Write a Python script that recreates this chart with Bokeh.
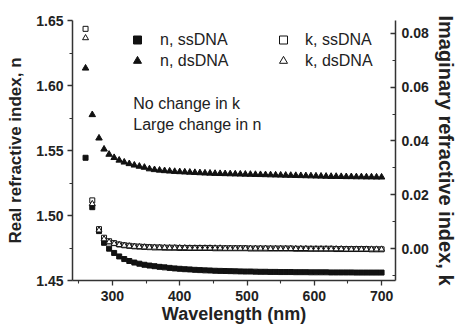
from bokeh.plotting import figure
from bokeh.models import (Range1d, LinearAxis, FixedTicker, NumeralTickFormatter,
                          Legend, LegendItem, Label)
from bokeh.embed import file_html
from bokeh.resources import INLINE

# Wavelength grid (nm)
wavelength = [260, 270, 280, 287.5, 295, 302.5, 310, 317.5, 325, 332.5, 340, 347.5,
              355, 362.5, 370, 377.5, 385, 392.5, 400, 407.5, 415, 422.5, 430, 437.5,
              445, 452.5, 460, 467.5, 475, 482.5, 490, 497.5, 505, 512.5, 520, 527.5,
              535, 542.5, 550, 557.5, 565, 572.5, 580, 587.5, 595, 602.5, 610, 617.5,
              625, 632.5, 640, 647.5, 655, 662.5, 670, 677.5, 685, 692.5, 700]

# Real refractive index n
n_ssdna = [1.5444, 1.5064, 1.4880, 1.4790, 1.4745, 1.4712, 1.4685, 1.4665, 1.4650,
           1.4638, 1.4629, 1.4621, 1.4615, 1.4610, 1.4605, 1.4601, 1.4597, 1.4593,
           1.4590, 1.4587, 1.4585, 1.4582, 1.4580, 1.4578, 1.4577, 1.4575, 1.4574,
           1.4573, 1.4572, 1.4571, 1.4570, 1.4569, 1.4569, 1.4568, 1.4567, 1.4567,
           1.4566, 1.4566, 1.4565, 1.4565, 1.4565, 1.4564, 1.4564, 1.4564, 1.4563,
           1.4563, 1.4563, 1.4563, 1.4562, 1.4562, 1.4562, 1.4562, 1.4562, 1.4561,
           1.4561, 1.4561, 1.4561, 1.4561, 1.4561]
n_dsdna = [1.6133, 1.5775, 1.5595, 1.5510, 1.5470, 1.5445, 1.5425, 1.5410, 1.5398,
           1.5387, 1.5378, 1.5370, 1.5358, 1.5352, 1.5348, 1.5344, 1.5341, 1.5338,
           1.5336, 1.5334, 1.5332, 1.5330, 1.5328, 1.5326, 1.5325, 1.5323, 1.5322,
           1.5321, 1.5320, 1.5319, 1.5318, 1.5317, 1.5316, 1.5315, 1.5314, 1.5313,
           1.5312, 1.5311, 1.5310, 1.5309, 1.5308, 1.5307, 1.5306, 1.5305, 1.5304,
           1.5303, 1.5302, 1.5301, 1.5300, 1.5300, 1.5299, 1.5298, 1.5298, 1.5297,
           1.5297, 1.5296, 1.5296, 1.5295, 1.5295]

# Imaginary refractive index k
k_ssdna = [0.0817, 0.0179, 0.0072, 0.0040, 0.0027, 0.0020, 0.0015, 0.0012, 0.0010,
           0.0008, 0.0007, 0.0006, 0.0005, 0.0004, 0.0004, 0.0003, 0.0003, 0.0003,
           0.0002, 0.0002, 0.0002, 0.0002, 0.0002, 0.0002, 0.0002, 0.0001, 0.0001,
           0.0001, 0.0001, 0.0001, 0.0001, 0.0001, 0.0000, 0.0000, 0.0000, 0.0000,
           0.0000, 0.0000, 0.0000, 0.0000, 0.0000, -0.0001, -0.0001, -0.0001, -0.0001,
           -0.0001, -0.0001, -0.0001, -0.0001, -0.0002, -0.0002, -0.0002, -0.0002,
           -0.0002, -0.0002, -0.0002, -0.0003, -0.0003, -0.0003]
k_dsdna = [0.0783, 0.0166, 0.0068, 0.0035, 0.0024, 0.0018, 0.0014, 0.0011, 0.0009,
           0.0007, 0.0006, 0.0005, 0.0004, 0.0004, 0.0003, 0.0003, 0.0002, 0.0002,
           0.0002, 0.0002, 0.0001, 0.0001, 0.0001, 0.0001, 0.0001, 0.0001, 0.0001,
           0.0000, 0.0000, 0.0000, 0.0000, 0.0000, 0.0000, 0.0000, 0.0000, 0.0000,
           -0.0001, -0.0001, -0.0001, -0.0001, -0.0001, -0.0001, -0.0001, -0.0001,
           -0.0002, -0.0002, -0.0002, -0.0002, -0.0002, -0.0002, -0.0002, -0.0003,
           -0.0003, -0.0003, -0.0003, -0.0003, -0.0003, -0.0003, -0.0003]

x_ticks = [300, 400, 500, 600, 700]
x_minor = [250, 350, 450, 550, 650]
n_ticks = [1.45, 1.50, 1.55, 1.60, 1.65]
n_minor = [1.475, 1.525, 1.575, 1.625]
k_ticks = [0.00, 0.02, 0.04, 0.06, 0.08]
k_minor = [-0.01, 0.01, 0.03, 0.05, 0.07]

FONT = "Liberation Sans"
INK = "#111111"
AXIS = "#333333"

p = figure(width=459, height=328, output_backend="svg", toolbar_location=None,
           x_range=Range1d(240.6, 720.7), y_range=Range1d(1.45, 1.65),
           min_border_left=72, min_border_right=63, min_border_top=20,
           min_border_bottom=48)
p.extra_y_ranges = {"k": Range1d(-0.0119, 0.0848)}
p.outline_line_color = None
p.xgrid.visible = False
p.ygrid.visible = False
p.background_fill_color = "white"
p.border_fill_color = "white"


def style_axis(ax):
    ax.axis_line_color = AXIS
    ax.axis_line_width = 1.5
    ax.major_tick_line_color = AXIS
    ax.minor_tick_line_color = AXIS
    ax.major_tick_line_width = 1.3
    ax.minor_tick_line_width = 1.1
    ax.major_label_text_font = FONT
    ax.major_label_text_font_style = "bold"
    ax.major_label_text_font_size = "14px"
    ax.major_label_text_color = "#222222"
    ax.axis_label_text_font = FONT
    ax.axis_label_text_font_style = "bold"
    ax.axis_label_text_font_size = "18px"
    ax.axis_label_text_color = "#222222"


xa = p.xaxis[0]
xa.ticker = FixedTicker(ticks=x_ticks, minor_ticks=x_minor)
xa.axis_label = "Wavelength (nm)"
style_axis(xa)
xa.major_tick_in, xa.major_tick_out = 0, 5
xa.minor_tick_in, xa.minor_tick_out = 0, 3
xa.major_label_standoff = 5
xa.axis_label_standoff = 0

ya = p.yaxis[0]
ya.ticker = FixedTicker(ticks=n_ticks, minor_ticks=n_minor)
ya.formatter = NumeralTickFormatter(format="0.00")
ya.axis_label = "Real refractive index, n"
style_axis(ya)
ya.axis_label_text_font_size = "17px"
ya.major_tick_in, ya.major_tick_out = 0, 5
ya.minor_tick_in, ya.minor_tick_out = 0, 3
ya.major_label_standoff = 4
ya.axis_label_standoff = 8

ka = LinearAxis(y_range_name="k", axis_label="Imaginary refractive index, k")
ka.ticker = FixedTicker(ticks=k_ticks, minor_ticks=k_minor)
ka.formatter = NumeralTickFormatter(format="0.00")
style_axis(ka)
ka.axis_label_text_font_size = "20px"
ka.major_tick_in, ka.major_tick_out = 5, 0
ka.minor_tick_in, ka.minor_tick_out = 3, 0
ka.major_label_standoff = 6
ka.axis_label_standoff = 3
p.add_layout(ka, "right")

r_nss = p.scatter(wavelength, n_ssdna, marker="square", size=5,
                  fill_color=INK, line_color=INK)
r_nds = p.scatter(wavelength, n_dsdna, marker="triangle", size=6.5,
                  fill_color=INK, line_color=INK)
r_kss = p.scatter(wavelength, k_ssdna, marker="square", size=5, y_range_name="k",
                  fill_color="white", line_color=INK, line_width=1)
r_kds = p.scatter(wavelength, k_dsdna, marker="triangle", size=6, y_range_name="k",
                  fill_color="white", line_color=INK, line_width=1)


def make_legend(items, loc, standoff):
    return Legend(items=items, location=loc, orientation="vertical",
                  border_line_color=None, background_fill_alpha=0,
                  padding=0, margin=0, spacing=0, glyph_width=20, glyph_height=21,
                  label_height=21, label_standoff=standoff,
                  label_text_font=FONT, label_text_font_size="16px",
                  label_text_color="#222222")


p.add_layout(make_legend([LegendItem(label="n, ssDNA", renderers=[r_nss]),
                          LegendItem(label="n, dsDNA", renderers=[r_nds])],
                         (55, 209), 13))
p.add_layout(make_legend([LegendItem(label="k, ssDNA", renderers=[r_kss]),
                          LegendItem(label="k, dsDNA", renderers=[r_kds])],
                         (201, 209), 12))

for txt, yv in [("No change in k", 1.5861), ("Large change in n", 1.5699)]:
    p.add_layout(Label(x=331, y=yv, text=txt, text_font=FONT, text_font_size="16px",
                       text_color="#222222", text_baseline="alphabetic"))

open("out.html", "w").write(file_html(p, INLINE))
